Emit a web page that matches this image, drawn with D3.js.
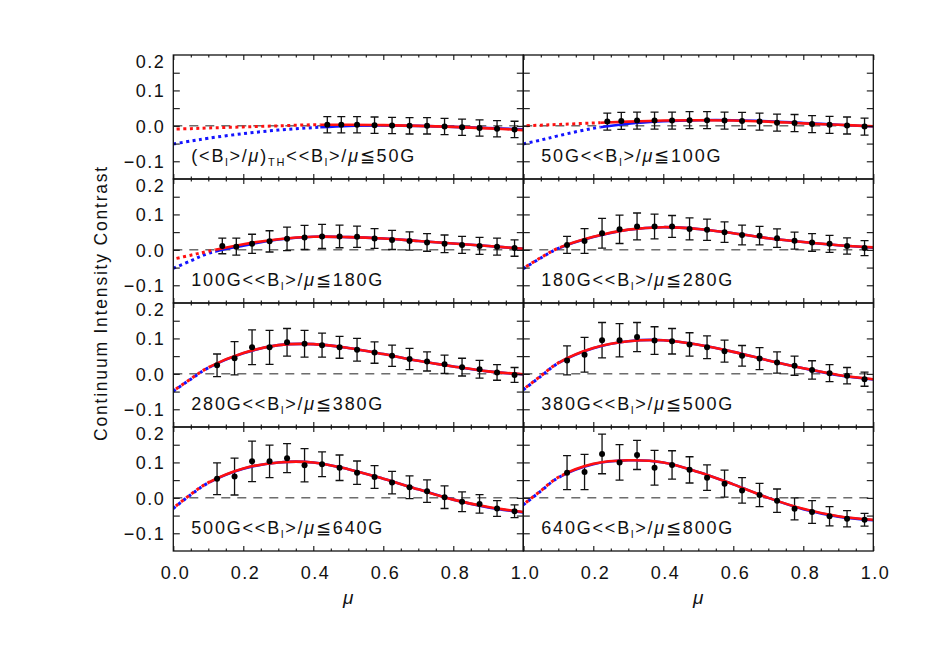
<!doctype html>
<html lang="en">
<head>
	<meta charset="UTF-8">
	<title>continuum intensity contrast</title>
	<style>
		body {
			margin: 0;
			background: #fff;
		}

		text {
			font-family: "Liberation Sans", Arial, sans-serif;
			fill: #111;
		}

		.tick-label {
			font-size: 18px;
			letter-spacing: 1.5px;
		}

		.panel-label {
			font-size: 18px;
			letter-spacing: 1.8px;
		}

		.axis-title {
			font-size: 17.5px;
			letter-spacing: 1.8px;
		}
	</style>
</head>
<body>
	<script src="https://cdn.jsdelivr.net/npm/d3@7"></script>
	<script>
		// ====== data
		var muFull = [0.125, 0.175, 0.225, 0.275, 0.325, 0.375, 0.425, 0.475, 0.525, 0.575, 0.625, 0.675, 0.725, 0.775, 0.825, 0.875, 0.925, 0.975];

		var mu1 = [0.44, 0.48, 0.525, 0.575, 0.625, 0.675, 0.725, 0.775, 0.825, 0.875, 0.925, 0.975];
		var mu2 = [0.24, 0.28, 0.325, 0.375, 0.425, 0.475, 0.525, 0.575, 0.625, 0.675, 0.725, 0.775, 0.825, 0.875, 0.925, 0.975];
		var mu3 = [0.14, 0.18, 0.225, 0.275, 0.325, 0.375, 0.425, 0.475, 0.525, 0.575, 0.625, 0.675, 0.725, 0.775, 0.825, 0.875, 0.925, 0.975];

		var val1 = [0.003, 0.003, 0.003, 0.002, 0.001, 0.000, 0.000, -0.002, -0.004, -0.006, -0.008, -0.010];
		var err1 = [0.023, 0.023, 0.023, 0.023, 0.023, 0.023, 0.023, 0.023, 0.023, 0.023, 0.023, 0.023];

		var val2 = [0.012, 0.014, 0.015, 0.015, 0.015, 0.016, 0.016, 0.015, 0.014, 0.012, 0.009, 0.008, 0.005, 0.003, 0.001, -0.002];
		var err2 = [0.024, 0.024, 0.024, 0.024, 0.024, 0.024, 0.024, 0.024, 0.024, 0.024, 0.024, 0.024, 0.024, 0.024, 0.024, 0.024];

		var val3 = [0.011, 0.009, 0.017, 0.024, 0.031, 0.035, 0.038, 0.038, 0.037, 0.032, 0.028, 0.025, 0.021, 0.017, 0.014, 0.011, 0.009, 0.005];
		var err3 = [0.022, 0.024, 0.027, 0.030, 0.033, 0.034, 0.034, 0.032, 0.030, 0.028, 0.027, 0.026, 0.025, 0.025, 0.024, 0.024, 0.024, 0.023];

		var val4 = [0.014, 0.025, 0.047, 0.058, 0.066, 0.066, 0.066, 0.059, 0.057, 0.050, 0.042, 0.040, 0.033, 0.026, 0.021, 0.017, 0.011, 0.005];
		var err4 = [0.024, 0.035, 0.042, 0.040, 0.038, 0.035, 0.031, 0.031, 0.030, 0.029, 0.028, 0.026, 0.026, 0.024, 0.025, 0.024, 0.023, 0.021];

		var val5 = [0.024, 0.044, 0.075, 0.075, 0.089, 0.085, 0.081, 0.075, 0.068, 0.060, 0.051, 0.042, 0.035, 0.027, 0.019, 0.013, 0.004, -0.003];
		var err5 = [0.032, 0.047, 0.049, 0.048, 0.039, 0.038, 0.034, 0.031, 0.032, 0.030, 0.030, 0.030, 0.027, 0.026, 0.025, 0.025, 0.022, 0.021];

		var val6 = [0.038, 0.054, 0.095, 0.095, 0.104, 0.094, 0.092, 0.083, 0.075, 0.064, 0.051, 0.043, 0.032, 0.023, 0.011, 0.002, -0.005, -0.015];
		var err6 = [0.041, 0.049, 0.050, 0.047, 0.041, 0.039, 0.036, 0.033, 0.032, 0.031, 0.029, 0.031, 0.030, 0.027, 0.026, 0.024, 0.023, 0.020];

		var val7 = [0.054, 0.060, 0.103, 0.103, 0.112, 0.092, 0.095, 0.085, 0.071, 0.059, 0.043, 0.030, 0.019, 0.002, -0.011, -0.017, -0.030, -0.038];
		var err7 = [0.045, 0.052, 0.057, 0.046, 0.041, 0.047, 0.035, 0.036, 0.033, 0.032, 0.032, 0.032, 0.032, 0.032, 0.028, 0.026, 0.022, 0.018];

		var val8 = [0.071, 0.073, 0.124, 0.100, 0.121, 0.085, 0.093, 0.079, 0.057, 0.040, 0.021, 0.008, -0.008, -0.031, -0.040, -0.052, -0.059, -0.062];
		var err8 = [0.048, 0.050, 0.056, 0.050, 0.041, 0.049, 0.040, 0.037, 0.036, 0.038, 0.036, 0.033, 0.033, 0.031, 0.032, 0.027, 0.023, 0.018];

		// fitted curves at these mu values
		var fitMu = [0, 0.05, 0.1, 0.2, 0.3, 0.4, 0.5, 0.6, 0.7, 0.8, 0.9, 1.0];

		var red1 = [-0.009, -0.008, -0.006, -0.003, 0.000, 0.003, 0.003, 0.002, 0.000, -0.003, -0.007, -0.012];
		var red2 = [0.000, 0.002, 0.004, 0.008, 0.012, 0.015, 0.016, 0.015, 0.012, 0.007, 0.003, -0.001];
		var red3 = [-0.026, -0.015, -0.004, 0.016, 0.030, 0.037, 0.036, 0.032, 0.025, 0.018, 0.011, 0.003];
		var red4 = [-0.052, -0.022, 0.005, 0.037, 0.057, 0.064, 0.059, 0.047, 0.033, 0.022, 0.013, 0.007];
		var red5 = [-0.048, -0.014, 0.018, 0.059, 0.081, 0.084, 0.073, 0.056, 0.037, 0.021, 0.007, -0.001];
		var red6 = [-0.044, -0.006, 0.031, 0.073, 0.092, 0.095, 0.082, 0.062, 0.038, 0.016, -0.003, -0.015];
		var red7 = [-0.029, 0.010, 0.043, 0.083, 0.100, 0.100, 0.081, 0.054, 0.024, -0.005, -0.026, -0.040];
		var red8 = [-0.019, 0.020, 0.058, 0.096, 0.106, 0.100, 0.073, 0.038, 0.000, -0.031, -0.052, -0.062];

		var blue1 = [-0.051, -0.043, -0.035, -0.022, -0.012, -0.005, 0.000, 0.001, 0.000, -0.003, -0.006, -0.010];
		var blue2 = [-0.051, -0.040, -0.028, -0.007, 0.006, 0.013, 0.016, 0.016, 0.013, 0.008, 0.003, -0.002];
		var blue3 = [-0.052, -0.031, -0.010, 0.012, 0.029, 0.037, 0.036, 0.032, 0.025, 0.018, 0.011, 0.003];
		var blue4 = [-0.053, -0.023, 0.004, 0.036, 0.057, 0.064, 0.059, 0.047, 0.033, 0.022, 0.013, 0.006];
		var blue5 = [-0.049, -0.015, 0.017, 0.058, 0.081, 0.084, 0.073, 0.056, 0.037, 0.021, 0.007, -0.002];
		var blue6 = [-0.045, -0.007, 0.030, 0.072, 0.092, 0.095, 0.082, 0.062, 0.038, 0.016, -0.004, -0.016];
		var blue7 = [-0.030, 0.009, 0.042, 0.082, 0.100, 0.100, 0.081, 0.054, 0.024, -0.005, -0.027, -0.041];
		var blue8 = [-0.020, 0.019, 0.057, 0.095, 0.106, 0.100, 0.073, 0.038, 0.000, -0.032, -0.053, -0.063];

		// mu where the fit turns from dotted (extrapolated) to solid
		var fitStart = [0.42, 0.22, 0.12, 0.105, 0.105, 0.105, 0.105, 0.11];

		var binLower = ['TH', '50G', '100G', '180G', '280G', '380G', '500G', '640G'];
		var binUpper = ['50G', '100G', '180G', '280G', '380G', '500G', '640G', '800G'];

		var xTickValues = [0, 0.2, 0.4, 0.6, 0.8, 1.0];
		var xMinorValues = [0.05, 0.1, 0.15, 0.25, 0.3, 0.35, 0.45, 0.5, 0.55, 0.65, 0.7, 0.75, 0.85, 0.9, 0.95];
		var yTickValues = [-0.1, -0.05, 0, 0.05, 0.1, 0.15];
		var yLabelValues = [0.2, 0.1, 0, -0.1];

		var panels = [
			{mu: mu1, val: val1, err: err1, red: red1, blue: blue1},
			{mu: mu2, val: val2, err: err2, red: red2, blue: blue2},
			{mu: mu3, val: val3, err: err3, red: red3, blue: blue3},
			{mu: muFull, val: val4, err: err4, red: red4, blue: blue4},
			{mu: muFull, val: val5, err: err5, red: red5, blue: blue5},
			{mu: muFull, val: val6, err: err6, red: red6, blue: blue6},
			{mu: muFull, val: val7, err: err7, red: red7, blue: blue7},
			{mu: muFull, val: val8, err: err8, red: red8, blue: blue8}
		];

		// ====== layout
		var w = 926,
			h = 662,
			plotLeft = 173.3,
			plotTop = 55,
			panelW = 350,
			panelH = 124;

		var svg = d3.select('body')
			.append('svg')
			.attr('width', w)
			.attr('height', h);

		var defs = svg.append('defs');

		var xScale = d3.scaleLinear().domain([0, 1]).range([0, panelW]);
		var yScale = d3.scaleLinear().domain([-0.15, 0.2]).range([panelH, 0]);

		var fitLine = d3.line()
			.x(function(d) { return xScale(d[0]); })
			.y(function(d) { return yScale(d[1]); })
			.curve(d3.curveCatmullRom.alpha(0.5));

		var fmt = d3.format('.1f');


		/**
		* inward pointing ticks on every side of a panel
		* @param {d3 selection} g Panel group
		* @param {number} col Column index
		* @param {number} row Row index
		*/
		var drawTicks = function(g, col, row) {
			var axes = [
				[d3.axisBottom(xScale).tickValues(xTickValues).tickSize(-5), 'translate(0,' + panelH + ')'],
				[d3.axisBottom(xScale).tickValues(xMinorValues).tickSize(-2.5), 'translate(0,' + panelH + ')'],
				[d3.axisTop(xScale).tickValues(xTickValues).tickSize(-5), null],
				[d3.axisTop(xScale).tickValues(xMinorValues).tickSize(-2.5), null],
				[d3.axisLeft(yScale).tickValues(yTickValues).tickSize(-6.5), null],
				[d3.axisRight(yScale).tickValues(yTickValues).tickSize(-6.5), 'translate(' + panelW + ',0)']
			];

			axes.forEach(function(a) {
				var ax = g.append('g')
					.attr('transform', a[1])
					.call(a[0].tickSizeOuter(0).tickFormat(''));
				ax.select('.domain').remove();
				ax.selectAll('line').attr('stroke', '#111').attr('stroke-width', 1.1);
			});

			// y labels on the left column
			if (col === 0) {
				var yl = g.append('g')
					.call(d3.axisLeft(yScale).tickValues(yLabelValues).tickSize(0).tickPadding(8).tickFormat(fmt));
				yl.select('.domain').remove();
				yl.selectAll('text')
					.attr('class', 'tick-label')
					.attr('fill', '#111')
					.attr('font-size', null)
					.attr('font-family', null)
					.attr('dy', function(d) { return d === 0.2 ? '0.72em' : '0.35em'; });
			}

			// x labels on the bottom row
			if (row === 3) {
				var xl = g.append('g')
					.attr('transform', 'translate(0,' + panelH + ')')
					.call(d3.axisBottom(xScale)
						.tickValues(col === 0 ? xTickValues : xTickValues.slice(1))
						.tickSize(0).tickPadding(15).tickFormat(fmt));
				xl.select('.domain').remove();
				xl.selectAll('text')
					.attr('class', 'tick-label')
					.attr('fill', '#111')
					.attr('font-size', null)
					.attr('font-family', null)
					.attr('dx', '0.1em');

				g.append('text')
					.attr('x', panelW / 2)
					.attr('y', panelH + 53)
					.attr('text-anchor', 'middle')
					.attr('font-style', 'italic')
					.attr('font-size', 19)
					.text('\u03bc');
			}
		};


		/**
		* label with the field strength bin of a panel
		* @param {d3 selection} g Panel group
		* @param {number} i Panel index
		*/
		var drawLabel = function(g, i) {
			var parts = [];
			if (i === 0) {
				parts = parts.concat([['(<B', ''], ['l', 'sub'], ['>/', ''], ['\u03bc', 'it'], [')', ''], ['TH', 'sub']]);
			} else {
				parts.push([binLower[i], '']);
			}
			parts = parts.concat([['<<B', ''], ['l', 'sub'], ['>/', ''], ['\u03bc', 'it'], ['\u2266' + binUpper[i], '']]);

			var t = g.append('text')
				.attr('class', 'panel-label')
				.attr('x', 18)
				.attr('y', yScale(-0.1) + 1);

			var shifted = false;
			parts.forEach(function(p) {
				var s = t.append('tspan').text(p[0]);
				if (p[1] === 'sub') {
					s.attr('font-size', 11).attr('dy', shifted ? 0 : 4);
					shifted = true;
				} else {
					if (shifted) {
						s.attr('dy', -4);
						shifted = false;
					}
					if (p[1] === 'it') {
						s.attr('font-style', 'italic');
					}
				}
			});
		};


		/**
		* one panel with data, error bars and fits
		* @param {object} p Panel data
		* @param {number} i Panel index
		*/
		var drawPanel = function(p, i) {
			var col = i % 2,
				row = Math.floor(i / 2),
				g = svg.append('g')
					.attr('transform', 'translate(' + (plotLeft + col * panelW) + ',' + (plotTop + row * panelH) + ')');

			var xs = xScale(fitStart[i]);
			defs.append('clipPath').attr('id', 'dot' + i)
				.append('rect').attr('x', 0).attr('y', 0).attr('width', xs).attr('height', panelH);
			defs.append('clipPath').attr('id', 'sol' + i)
				.append('rect').attr('x', xs).attr('y', 0).attr('width', panelW - xs).attr('height', panelH);

			// zero line
			g.append('line')
				.attr('x1', xScale(0)).attr('x2', xScale(1))
				.attr('y1', yScale(0)).attr('y2', yScale(0))
				.attr('stroke', '#222')
				.attr('stroke-width', 1)
				.attr('stroke-dasharray', '9,7');

			// error bars
			var pts = p.mu.map(function(m, k) {
				return {mu: m, v: p.val[k], e: p.err[k]};
			});

			var bars = g.append('g')
				.attr('stroke', '#111')
				.attr('stroke-width', 1.3);

			bars.selectAll('.eb')
				.data(pts)
				.enter()
				.append('path')
				.attr('fill', 'none')
				.attr('d', function(d) {
					var x = xScale(d.mu),
						y0 = yScale(d.v - d.e),
						y1 = yScale(d.v + d.e);
					return 'M' + x + ',' + y0 + 'V' + y1 +
						'M' + (x - 4) + ',' + y1 + 'H' + (x + 4) +
						'M' + (x - 4) + ',' + y0 + 'H' + (x + 4);
				});

			var curveRed = fitMu.map(function(m, k) { return [m, p.red[k]]; }),
				curveBlue = fitMu.map(function(m, k) { return [m, p.blue[k]]; });

			// dotted extrapolation
			g.append('path')
				.attr('d', fitLine(curveBlue))
				.attr('clip-path', 'url(#dot' + i + ')')
				.attr('fill', 'none')
				.attr('stroke', '#1414ff')
				.attr('stroke-width', 3)
				.attr('stroke-dasharray', '3,3.5');

			g.append('path')
				.attr('d', fitLine(curveRed))
				.attr('clip-path', 'url(#dot' + i + ')')
				.attr('fill', 'none')
				.attr('stroke', '#ff1010')
				.attr('stroke-width', 3)
				.attr('stroke-dasharray', '3,3.5')
				.attr('stroke-dashoffset', 3);

			// solid fits
			g.append('path')
				.attr('d', fitLine(curveBlue))
				.attr('clip-path', 'url(#sol' + i + ')')
				.attr('fill', 'none')
				.attr('stroke', '#1414ff')
				.attr('stroke-width', 2.6);

			g.append('path')
				.attr('d', fitLine(curveRed))
				.attr('clip-path', 'url(#sol' + i + ')')
				.attr('fill', 'none')
				.attr('stroke', '#ff1010')
				.attr('stroke-width', 2.6);

			// data points
			g.selectAll('circle')
				.data(pts)
				.enter()
				.append('circle')
				.attr('cx', function(d) { return xScale(d.mu); })
				.attr('cy', function(d) { return yScale(d.v); })
				.attr('r', 3)
				.attr('fill', '#000');

			// frame
			g.append('rect')
				.attr('width', panelW)
				.attr('height', panelH)
				.attr('fill', 'none')
				.attr('stroke', '#111')
				.attr('stroke-width', 1.3);

			drawTicks(g, col, row);
			drawLabel(g, i);
		};


		panels.forEach(drawPanel);

		svg.append('text')
			.attr('class', 'axis-title')
			.attr('text-anchor', 'middle')
			.attr('transform', 'translate(107,' + (plotTop + 2 * panelH) + ') rotate(-90)')
			.text('Continuum Intensity Contrast');

	</script>
</body>
</html>
